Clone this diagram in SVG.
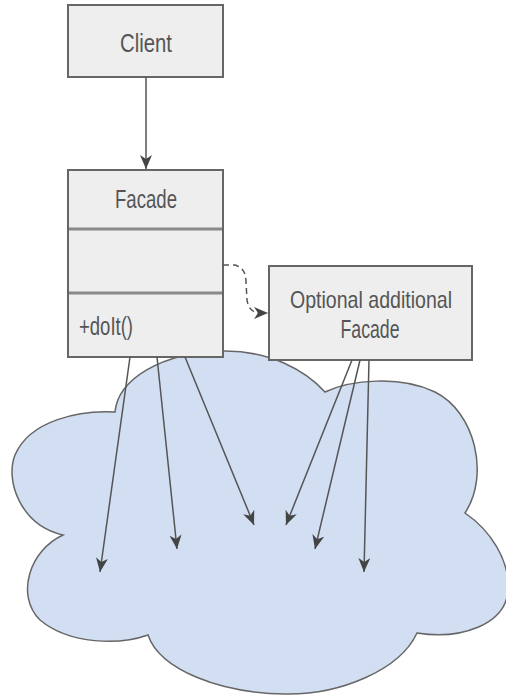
<svg xmlns="http://www.w3.org/2000/svg" width="506" height="695" viewBox="0 0 506 695">
<style>
.box{fill:#eeeeee;stroke:#666666;stroke-width:2}
.div{stroke:#888888;stroke-width:3}
.lbl{font-family:"Liberation Sans Narrow","Liberation Sans",Arial,sans-serif;font-size:26px;fill:#555555}
.sm{font-size:24px}
.edge{fill:none;stroke:#555555;stroke-width:1.5}
.dash{fill:none;stroke:#555555;stroke-width:1.5;stroke-dasharray:6 4}
.cloud{fill:#d2dff3;stroke:#666666;stroke-width:1.5}
</style>
<defs>
<marker id="arr" markerUnits="userSpaceOnUse" markerWidth="16" markerHeight="14" refX="14" refY="6" orient="auto">
<path d="M0,0 L14,6 L0,12 L4,6 Z" fill="#444444"/>
</marker>
</defs>
<g id="cloud">
<path class="cloud" d="M115,412 C118,380 160,352 225,351 C270,351 305,370 325,392 C350,380 400,375 435,392 C475,412 490,475 465,513 C490,530 510,560 508,590 C506,625 460,640 417,633 C400,670 340,695 285,694 C220,693 160,670 148,635 C120,645 70,645 40,620 C15,595 30,550 63,535 C20,525 5,480 15,455 C30,420 80,410 115,412 Z"/>
</g>
<g id="client">
<rect class="box" x="68" y="5" width="155" height="72"/>
<text class="lbl" x="146" y="52" text-anchor="middle" textLength="52" lengthAdjust="spacingAndGlyphs">Client</text>
</g>
<g id="facade">
<rect class="box" x="68" y="170" width="155" height="187"/>
<line class="div" x1="69" y1="229" x2="222" y2="229"/>
<line class="div" x1="69" y1="293" x2="222" y2="293"/>
<text class="lbl" x="146" y="208" text-anchor="middle" textLength="62" lengthAdjust="spacingAndGlyphs">Facade</text>
<text class="lbl" x="79" y="335" textLength="54" lengthAdjust="spacingAndGlyphs">+doIt()</text>
</g>
<g id="optional">
<rect class="box" x="269" y="266" width="203" height="94"/>
<text class="lbl sm" x="371" y="308" text-anchor="middle" textLength="162" lengthAdjust="spacingAndGlyphs">Optional additional</text>
<text class="lbl" x="370" y="338" text-anchor="middle" textLength="59" lengthAdjust="spacingAndGlyphs">Facade</text>
</g>
<g id="connectors">
<path class="edge" d="M146,77 L146,169" marker-end="url(#arr)"/>
<path class="dash" d="M223,265 L235,265 Q246,268 246,282 L247,300 Q249,313 260,313 L268,313" marker-end="url(#arr)"/>
<path class="edge" d="M130,357 L100,572" marker-end="url(#arr)"/>
<path class="edge" d="M157,357 L177,549" marker-end="url(#arr)"/>
<path class="edge" d="M185,357 L254,525" marker-end="url(#arr)"/>
<path class="edge" d="M352,360 L286,525" marker-end="url(#arr)"/>
<path class="edge" d="M360,360 L315,549" marker-end="url(#arr)"/>
<path class="edge" d="M369,360 L364,572" marker-end="url(#arr)"/>
</g>
</svg>
